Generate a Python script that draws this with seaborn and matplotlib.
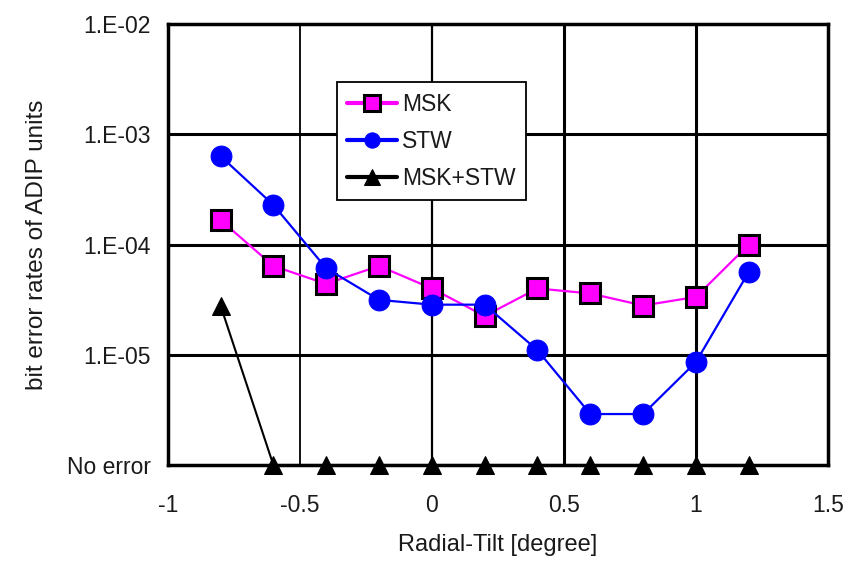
import matplotlib
matplotlib.use("Agg")
import matplotlib.pyplot as plt
import seaborn as sns
import numpy as np
import pandas as pd

tilt = [-0.8, -0.6, -0.4, -0.2, 0.0, 0.2, 0.4, 0.6, 0.8, 1.0, 1.2]
msk = [1.67e-4, 6.4e-5, 4.4e-5, 6.4e-5, 4.0e-5, 2.25e-5, 4.0e-5, 3.6e-5, 2.8e-5, 3.35e-5, 1.0e-4]
stw = [6.35e-4, 2.29e-4, 6.1e-5, 3.15e-5, 2.85e-5, 2.85e-5, 1.1e-5, 2.9e-6, 2.9e-6, 8.6e-6, 5.65e-5]
msk_stw = [2.8e-5, 1e-6, 1e-6, 1e-6, 1e-6, 1e-6, 1e-6, 1e-6, 1e-6, 1e-6, 1e-6]

ytick_vals = [1e-6, 1e-5, 1e-4, 1e-3, 1e-2]
ytick_labels = ["No error", "1.E-05", "1.E-04", "1.E-03", "1.E-02"]
xtick_vals = [-1, -0.5, 0, 0.5, 1, 1.5]
xtick_labels = ["-1", "-0.5", "0", "0.5", "1", "1.5"]

sns.set_theme(style="white")
plt.rcParams['font.family'] = ['Liberation Sans', 'DejaVu Sans']

TXT = "#1a1a1a"

fig = plt.figure(figsize=(8.47, 5.62), dpi=100)
ax = fig.add_axes([0.198, 0.1726, 0.7796, 0.7844])
ax.set_yscale("log")
ax.set_xlim(-1, 1.5)
ax.set_ylim(1e-6, 1e-2)

# grid lines
for xv, lw in [(-0.5, 1.3), (0, 1.6), (0.5, 2.2), (1.0, 2.2)]:
    ax.axvline(xv, color="black", lw=lw, zorder=1)
for yv in [1e-5, 1e-4, 1e-3]:
    ax.axhline(yv, color="black", lw=2.2, zorder=1)

df = pd.DataFrame({"tilt": tilt, "MSK": msk, "STW": stw, "MSK+STW": msk_stw})

sns.lineplot(data=df, x="tilt", y="MSK", ax=ax, color="#ff00ff", lw=1.6,
             marker="s", markersize=14, markerfacecolor="#ff00ff",
             markeredgecolor="black", markeredgewidth=2.2, label="MSK", zorder=3)
sns.lineplot(data=df, x="tilt", y="STW", ax=ax, color="#0000ff", lw=1.6,
             marker="o", markersize=15, markerfacecolor="#0000ff",
             markeredgecolor="#0000ff", label="STW", zorder=4)
sns.lineplot(data=df, x="tilt", y="MSK+STW", ax=ax, color="black", lw=1.5,
             marker="^", markersize=13, markerfacecolor="black",
             markeredgecolor="black", label="MSK+STW", zorder=5, clip_on=False)

ax.set_xticks(xtick_vals)
ax.set_xticklabels(xtick_labels)
ax.set_yticks(ytick_vals)
ax.set_yticklabels(ytick_labels)
ax.minorticks_off()
ax.tick_params(axis="both", length=0, labelsize=16.5, colors=TXT)
ax.tick_params(axis="x", pad=21)
ax.tick_params(axis="y", pad=12)

for s in ax.spines.values():
    s.set_visible(True)
    s.set_color("black")
    s.set_linewidth(2.5)
    s.set_zorder(2)

ax.set_xlabel("Radial-Tilt [degree]", fontsize=17, labelpad=12, color=TXT)
ax.set_ylabel("bit error rates of ADIP units", fontsize=17.5, labelpad=14, color=TXT)

leg = ax.legend(loc="upper left", bbox_to_anchor=(0.256, 0.868), fontsize=16.5,
                frameon=True, fancybox=False, handlelength=2.2, borderpad=0.45,
                labelspacing=0.62, handletextpad=0.2, borderaxespad=0)
leg.get_frame().set_edgecolor("black")
leg.get_frame().set_linewidth(1.3)
leg.get_frame().set_alpha(1)
for t in leg.get_texts():
    t.set_color(TXT)
for h in leg.legend_handles:
    h.set_markersize(11)
    h.set_linewidth(3)

fig.savefig("out.png", dpi=100)
